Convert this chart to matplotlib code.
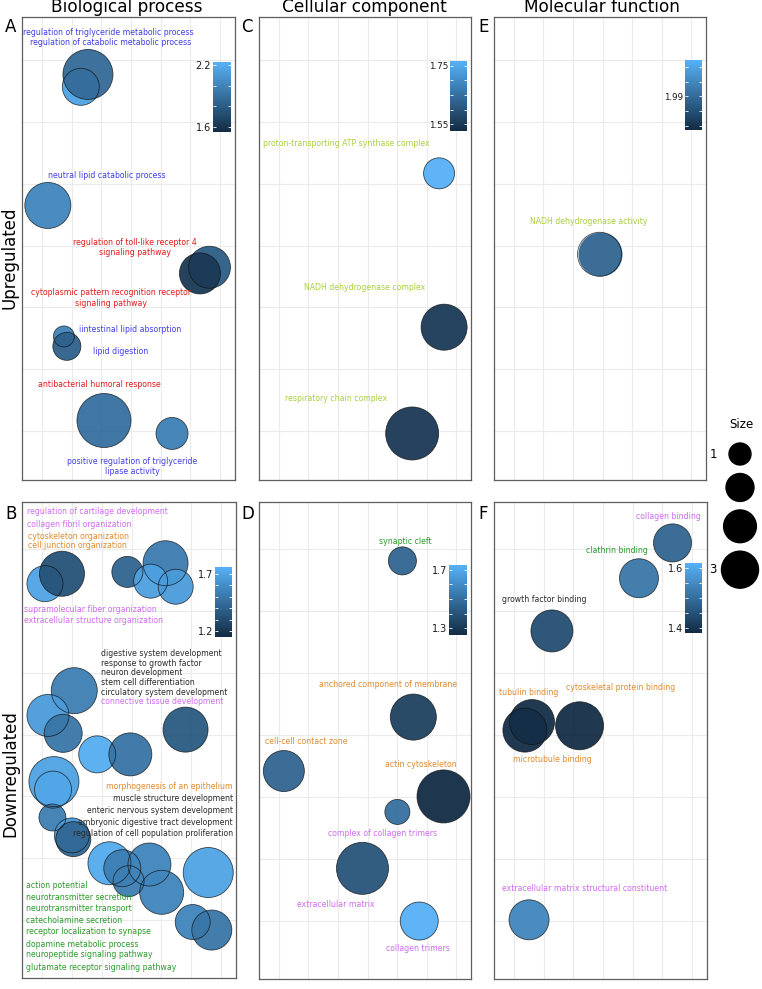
import numpy as np
import matplotlib.pyplot as plt
from matplotlib.colors import LinearSegmentedColormap, Normalize
from matplotlib.cm import ScalarMappable

W, H = 762, 989

# label colour per semantic cluster
cluster_colors = {
    'lipid': '#3F3FE6',
    'immune': '#E41A1C',
    'mito': '#A9CF3F',
    'ecm': '#CF6BF0',
    'cyto': '#E08A2C',
    'neuro': '#2A9A2A',
    'dev': '#2B2B2B',
}

# ---------------- A: Biological process, upregulated ----------------
a_x = [2.31, 2.55, 1.20, 6.64, 6.32, 1.74, 1.84, 3.09, 5.38]
a_y = [6.57, 6.77, 4.65, 3.65, 3.55, 2.53, 2.37, 1.17, 0.96]
a_size = [3.00, 5.56, 4.69, 3.89, 3.71, 0.90, 1.68, 6.50, 2.22]
a_logp = [2.16, 1.87, 2.01, 1.81, 1.62, 2.00, 1.82, 1.90, 1.98]
a_text = ['regulation of triglyceride metabolic process',
          'regulation of catabolic metabolic process',
          'neutral lipid catabolic process',
          'regulation of toll-like receptor 4\nsignaling pathway',
          'cytoplasmic pattern recognition receptor\nsignaling pathway',
          'iintestinal lipid absorption',
          'lipid digestion',
          'antibacterial humoral response',
          'positive regulation of triglyceride\nlipase activity']
a_tx = [3.22, 3.32, 3.19, 4.13, 3.32, 3.96, 3.66, 2.95, 4.03]
a_ty = [7.45, 7.28, 5.14, 3.97, 3.15, 2.65, 2.29, 1.76, 0.43]
a_tcl = ['lipid', 'lipid', 'lipid', 'immune', 'immune', 'lipid', 'lipid', 'immune', 'lipid']

# ---------------- C: Cellular component, upregulated ----------------
c_x = [6.42, 6.59, 5.51]
c_y = [5.17, 2.68, 0.96]
c_size = [2.08, 4.69, 6.25]
c_logp = [1.765, 1.553, 1.55]
c_text = ['proton-transporting ATP synthase complex', 'NADH dehydrogenase complex',
          'respiratory chain complex']
c_tx = [3.29, 3.90, 2.92]
c_ty = [5.66, 3.33, 1.53]
c_tcl = ['mito', 'mito', 'mito']

# ---------------- E: Molecular function, upregulated ----------------
e_x = [3.90]
e_y = [3.86]
e_size = [4.28]
e_logp = [1.988]
e_text = ['NADH dehydrogenase activity']
e_tx = [3.53]
e_ty = [4.39]
e_tcl = ['mito']

# ---------------- B: Biological process, downregulated ----------------
b_x = [1.10, 1.67, 3.86, 5.14, 4.64, 5.48,
       2.08, 1.20, 1.71, 5.81, 2.85, 3.96, 1.40, 1.37,
       1.35, 2.00, 2.05, 3.26, 3.69, 3.90, 4.60, 5.01, 6.57, 6.05, 6.69]
b_y = [6.44, 6.60, 6.63, 6.77, 6.48, 6.39,
       4.71, 4.31, 4.02, 4.08, 3.68, 3.68, 3.24, 3.11,
       2.66, 2.37, 2.31, 1.92, 1.84, 1.63, 1.90, 1.45, 1.77, 0.97, 0.84]
b_size = [2.84, 4.48, 2.08, 4.48, 2.52, 2.67,
          4.69, 3.89, 3.17, 4.48, 3.00, 4.08, 5.56, 3.00,
          1.55, 2.67, 2.67, 4.08, 3.00, 2.08, 4.08, 4.28, 5.56, 2.67, 3.52]
b_logp = [1.70, 1.325, 1.41, 1.52, 1.68, 1.66,
          1.53, 1.66, 1.49, 1.36, 1.74, 1.48, 1.69, 1.71,
          1.53, 1.65, 1.42, 1.73, 1.53, 1.53, 1.56, 1.56, 1.70, 1.56, 1.49]
b_text = ['regulation of cartilage development', 'collagen fibril organization',
          'cytoskeleton organization', 'cell junction organization',
          'supramolecular fiber organization', 'extracellular structure organization',
          'digestive system development', 'response to growth factor', 'neuron development',
          'stem cell differentiation', 'circulatory system development',
          'connective tissue development',
          'morphogenesis of an epithelium', 'muscle structure development',
          'enteric nervous system development', 'embryonic digestive tract development',
          'regulation of cell population proliferation',
          'action potential', 'neurotransmitter secretion', 'neurotransmitter transport',
          'catecholamine secretion', 'receptor localization to synapse',
          'dopamine metabolic process', 'neuropeptide signaling pathway',
          'glutamate receptor signaling pathway']
b_tx = [0.49, 0.49, 0.52, 0.52, 0.39, 0.39,
        2.99, 2.99, 2.99, 2.99, 2.99, 2.99,
        7.40, 7.40, 7.40, 7.40, 7.40,
        0.46, 0.46, 0.46, 0.46, 0.46, 0.46, 0.46, 0.46]
b_ty = [7.60, 7.39, 7.21, 7.05, 6.02, 5.85,
        5.31, 5.15, 5.00, 4.84, 4.68, 4.53,
        3.16, 2.97, 2.77, 2.58, 2.40,
        1.56, 1.37, 1.19, 1.00, 0.81, 0.61, 0.44, 0.24]
b_tcl = ['ecm', 'ecm', 'cyto', 'cyto', 'ecm', 'ecm',
         'dev', 'dev', 'dev', 'dev', 'dev', 'ecm',
         'cyto', 'dev', 'dev', 'dev', 'dev'] + ['neuro'] * 8
b_tha = ['left'] * 12 + ['right'] * 5 + ['left'] * 8

# ---------------- D: Cellular component, downregulated ----------------
d_x = [5.18, 5.55, 1.17, 6.57, 5.01, 3.83, 5.75]
d_y = [6.81, 4.29, 3.42, 3.01, 2.76, 1.85, 1.00]
d_size = [1.68, 4.69, 3.71, 6.25, 1.32, 6.02, 3.17]
d_logp = [1.46, 1.33, 1.46, 1.255, 1.50, 1.40, 1.73]
d_text = ['synaptic cleft', 'anchored component of membrane', 'cell-cell contact zone',
          'actin cytoskeleton', 'complex of collagen trimers', 'extracellular matrix',
          'collagen trimers']
d_tx = [5.28, 4.69, 1.93, 5.81, 4.50, 2.92, 5.71]
d_ty = [7.13, 4.82, 3.89, 3.53, 2.42, 1.27, 0.56]
d_tcl = ['neuro', 'cyto', 'cyto', 'cyto', 'ecm', 'ecm', 'ecm']

# ---------------- F: Molecular function, downregulated ----------------
f_x = [6.34, 5.21, 2.28, 1.61, 1.37, 3.21, 1.51]
f_y = [7.10, 6.53, 5.68, 4.21, 4.08, 4.15, 1.02]
f_size = [3.17, 3.34, 3.89, 4.48, 4.28, 5.11, 3.52]
f_logp = [1.484, 1.515, 1.444, 1.39, 1.388, 1.387, 1.542]
f_text = ['collagen binding', 'clathrin binding', 'growth factor binding', 'tubulin binding',
          'cytoskeletal protein binding', 'microtubule binding',
          'extracellular matrix structural constituent']
f_tx = [6.19, 4.47, 2.01, 1.49, 4.60, 2.28, 3.39]
f_ty = [7.52, 6.98, 6.18, 4.69, 4.76, 3.60, 1.53]
f_tcl = ['ecm', 'neuro', 'dev', 'cyto', 'cyto', 'cyto', 'ecm']

# size legend
legend_sizes = [1.0, 1.67, 2.33, 3.0]
legend_labels = ['1', '', '', '3']

cmap = LinearSegmentedColormap.from_list('gg', ['#132B43', '#56B1F7'])


def px_rect(l, t, r, b):
    return [l / W, 1 - b / H, (r - l) / W, (b - t) / H]


def size_to_s(v):
    d_px = np.sqrt(41.5 + 442.5 * np.asarray(v))
    return (d_px * 72 / 100) ** 2


fig = plt.figure(figsize=(W / 100, H / 100), dpi=100)


def draw_panel(rect, ylim, xs, ys, sizes, logp, vrange, texts, tx, ty, tcl, tha,
               cb_rect, cb_ticks, cb_labels, cb_fs=7):
    ax = fig.add_axes(px_rect(*rect))
    ax.set_xlim(0.33, 7.5)
    ax.set_ylim(*ylim)
    ax.set_xticks(range(1, 8))
    ax.set_yticks(range(1, 8))
    ax.grid(True, color='#EBEBEB', lw=0.8)
    ax.set_axisbelow(True)
    ax.tick_params(length=0, labelbottom=False, labelleft=False)
    for sp in ax.spines.values():
        sp.set_color('#5E5E5E')
        sp.set_linewidth(0.9)
    norm = Normalize(*vrange)
    s = size_to_s(sizes)
    ax.scatter(xs, ys, s=s, c=logp, cmap=cmap, norm=norm, linewidths=0, alpha=0.95, zorder=3)
    ax.scatter(xs, ys, s=s, facecolors='none', edgecolors='#111111', linewidths=0.6,
               alpha=0.75, zorder=4)
    if tha is None:
        tha = ['center'] * len(texts)
    for i, t in enumerate(texts):
        ax.text(tx[i], ty[i], t, color=cluster_colors[tcl[i]], fontsize=5.6, ha=tha[i],
                va='center', multialignment='center', zorder=5)
    cax = fig.add_axes(px_rect(*cb_rect))
    cb = fig.colorbar(ScalarMappable(norm=norm, cmap=cmap), cax=cax)
    cb.outline.set_visible(False)
    cb.set_ticks(cb_ticks)
    cb.set_ticklabels(cb_labels)
    cax.tick_params(left=True, right=True, labelleft=True, labelright=False, direction='in',
                    length=2.5, width=0.6, color='white', labelcolor='#1a1a1a',
                    labelsize=cb_fs, pad=1.5)
    return ax


top_ylim = (0.207, 7.70)
bot_ylim = (0.065, 7.76)

draw_panel((22, 17, 235, 480), top_ylim, a_x, a_y, a_size, a_logp, (1.55, 2.23),
           a_text, a_tx, a_ty, a_tcl, None, (213, 62, 231, 132),
           [1.6, 1.8, 2.0, 2.2], ['1.6', '', '', '2.2'])
draw_panel((259, 17, 471, 480), top_ylim, c_x, c_y, c_size, c_logp, (1.526, 1.767),
           c_text, c_tx, c_ty, c_tcl, None, (450, 61, 467, 131),
           [1.55, 1.60, 1.65, 1.70, 1.75], ['1.55', '', '', '', '1.75'], 6.3)
draw_panel((494, 17, 706, 480), top_ylim, e_x, e_y, e_size, e_logp, (1.967, 2.015),
           e_text, e_tx, e_ty, e_tcl, None, (685, 60, 702, 130),
           [1.97, 1.98, 1.99, 2.00, 2.01], ['', '', '1.99', '', ''], 6.3)
draw_panel((22, 502, 236, 978), bot_ylim, b_x, b_y, b_size, b_logp, (1.147, 1.76),
           b_text, b_tx, b_ty, b_tcl, b_tha, (215, 567, 232, 637),
           [1.2, 1.3, 1.4, 1.5, 1.6, 1.7], ['1.2', '', '', '', '', '1.7'])
draw_panel((259, 502, 471, 979), bot_ylim, d_x, d_y, d_size, d_logp, (1.252, 1.734),
           d_text, d_tx, d_ty, d_tcl, None, (449, 565, 467, 635),
           [1.3, 1.4, 1.5, 1.6, 1.7], ['1.3', '', '', '', '1.7'])
draw_panel((494, 502, 707, 979), bot_ylim, f_x, f_y, f_size, f_logp, (1.383, 1.617),
           f_text, f_tx, f_ty, f_tcl, None, (685, 563, 702, 633),
           [1.40, 1.45, 1.50, 1.55, 1.60], ['1.4', '', '', '', '1.6'])

# column titles, panel letters, row labels
for x, t in [(127, 'Biological process'), (364, 'Cellular component'), (602, 'Molecular function')]:
    fig.text(x / W, 1 - 12.5 / H, t, ha='center', va='baseline', fontsize=12.2)
for x, y, t in [(5, 32, 'A'), (241, 32, 'C'), (478, 32, 'E'),
                (5, 519, 'B'), (241, 519, 'D'), (478, 519, 'F')]:
    fig.text(x / W, 1 - y / H, t, ha='left', va='baseline', fontsize=12)
fig.text(10 / W, 1 - 258 / H, 'Upregulated', rotation=90, ha='center', va='center', fontsize=12)
fig.text(10 / W, 1 - 774 / H, 'Downregulated', rotation=90, ha='center', va='center', fontsize=12)

# size legend
lax = fig.add_axes(px_rect(700, 400, 762, 600))
lax.set_xlim(700, 762)
lax.set_ylim(600, 400)
lax.axis('off')
d = np.sqrt(41.5 + 442.5 * np.array(legend_sizes))
yc = [454.0]
for i in range(1, len(d)):
    yc.append(yc[-1] + (d[i - 1] + d[i]) / 2 + 8.5)
lax.scatter([740] * len(yc), yc, s=size_to_s(legend_sizes), c='black', clip_on=False)
for lbl, y in zip(legend_labels, yc):
    lax.text(713, y, lbl, ha='center', va='center', fontsize=8.5)
lax.text(741, 425, 'Size', ha='center', va='center', fontsize=8.5)

fig.savefig('out.png', dpi=100)
